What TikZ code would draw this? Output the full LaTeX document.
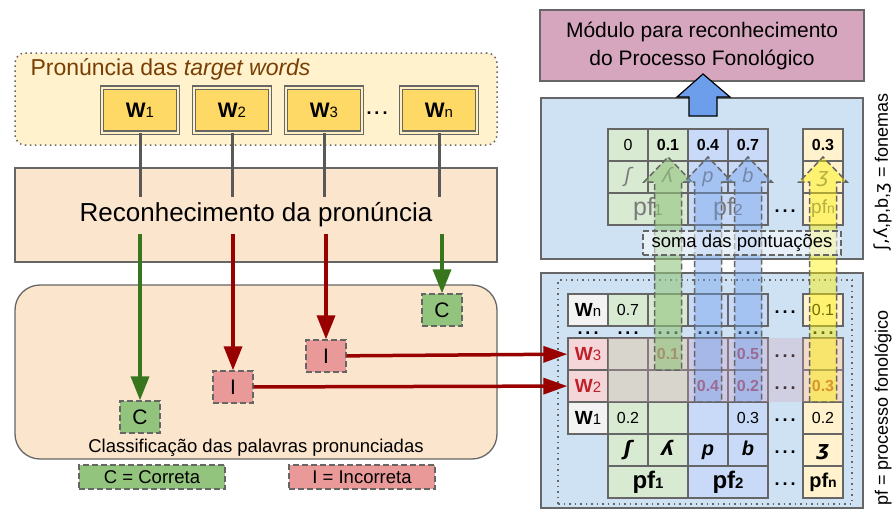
\documentclass[tikz,border=0pt]{standalone}
\usepackage{fontspec}
\setmainfont{Liberation Sans}
\newfontfamily\ipafont{DejaVu Sans}
\usetikzlibrary{arrows.meta}

\definecolor{peach}{HTML}{FCE5CD}
\definecolor{cream}{HTML}{FFF2CC}
\definecolor{gold}{HTML}{FFD966}
\definecolor{okgreen}{HTML}{93C47D}
\definecolor{okdark}{HTML}{38761D}
\definecolor{badred}{HTML}{EA9999}
\definecolor{baddark}{HTML}{990000}
\definecolor{mauve}{HTML}{D5A6BD}
\definecolor{sky}{HTML}{CFE2F3}
\definecolor{cellgreen}{HTML}{D9EAD3}
\definecolor{cellblue}{HTML}{C9DAF8}
\definecolor{cellgray}{HTML}{F3F3F3}
\definecolor{cellpink}{HTML}{F4D6D9}
\definecolor{bigblue}{HTML}{6D9EEB}
\definecolor{rim}{HTML}{666666}
\definecolor{wire}{HTML}{595959}
\definecolor{wordtitle}{HTML}{783F04}
\definecolor{faded}{HTML}{7A7A7A}
\definecolor{wrongtxt}{HTML}{C0202A}
\definecolor{hitred}{HTML}{B3202A}

\newcommand{\fsz}[1]{\fontsize{#1}{#1}\selectfont}
% letter(s) followed by a smaller index: W1, pf2 ...
\newcommand{\idx}[3]{#1{\fsz{#2}#3}}
\newcommand{\wlabel}[1]{\idx{\textbf{W}}{15}{#1}}
\newcommand{\ellip}{\textbf{.\hspace{3pt}.\hspace{3pt}.}}
% translucent block arrow from the score grid up into the sums
\newcommand{\upflow}[3]{%
  \draw[flow, #3] (#1-13.5,#2) -- (#1-13.5,182) -- (#1-24,182) -- (#1,157)
    -- (#1+24,182) -- (#1+13.5,182) -- (#1+13.5,#2) -- cycle;}

\begin{document}
\begin{tikzpicture}[x=1pt,y=-1pt,
  rimbox/.style={draw=rim, line width=1.3pt, inner sep=0pt},
  stage/.style={rimbox, fill=peach, minimum width=482},
  word/.style={draw=rim, line width=1.1pt, double=gold!40, double distance=2pt,
    fill=gold, minimum width=76, minimum height=45, inner sep=0pt, font=\fsz{21}},
  tagbox/.style={rimbox, dash pattern=on 6pt off 3pt, minimum width=40, minimum height=32, font=\fsz{21}},
  keybox/.style={rimbox, dash pattern=on 6pt off 3pt, minimum width=146, minimum height=24, font=\fsz{18.5}},
  feed/.style={draw=wire, line width=3pt},
  okflow/.style={draw=okdark, line width=3.5pt, -{Triangle[length=24pt,width=18pt]}},
  badflow/.style={draw=baddark, line width=3.5pt, -{Triangle[length=24pt,width=18pt]}},
  cell/.style={rimbox, minimum width=40, minimum height=32, font=\fsz{16}},
  wide/.style={cell, minimum width=80},
  hit/.style={cell, font=\fsz{16}\bfseries, text=hitred},
  phon/.style={cell, font=\fsz{20}\bfseries\itshape, text height=14pt, text depth=4pt},
  label/.style={cell, font=\fsz{19}},
  gapdots/.style={inner sep=0pt, font=\fsz{18}},
  flow/.style={draw=rim, line width=1.5pt, dash pattern=on 6pt off 3pt}]
\useasboundingbox (0,0) rectangle (896,512);

% words to pronounce
\node[draw=rim, line width=1.5pt, dash pattern=on 1.5pt off 3.5pt, rounded corners=10,
  fill=cream, minimum width=482, minimum height=92] (targets) at (256,99) {};
\node[anchor=base west, text=wordtitle, font=\fsz{23}] (targetsname) at (27,75) {Pronúncia das \textit{target words}};
\node[word] (w1) at (140,110) {\wlabel{1}};
\node[word] (w2) at (232,110) {\wlabel{2}};
\node[word] (w3) at (324,110) {\wlabel{3}};
\node[gapdots] (wdots) at (377,113) {\ellip};
\node[word] (wn) at (439,110) {\wlabel{n}};

% recogniser
\node[stage, minimum height=94, font=\fsz{26}] (recog) at (256,215) {Reconhecimento da pronúncia};
\coordinate (feedend) at (0,197);
\coordinate (outstart) at (0,234);
\foreach \w in {w1,w2,w3,wn}
  \draw[feed] (\w.south) -- (\w.south |- feedend);

% classification
\node[stage, rounded corners=25, minimum height=174] (classes) at (256,372) {};
\node[font=\fsz{18.5}] (classesname) at (256,448) {Classificação das palavras pronunciadas};
\node[tagbox, fill=okgreen] (cn) at (442,310) {C};
\node[tagbox, fill=badred] (i3) at (326,356) {I};
\node[tagbox, fill=badred] (i2) at (233,387) {I};
\node[tagbox, fill=okgreen] (c1) at (140,417) {C};
\draw[okflow] (c1 |- outstart) -- (c1);
\draw[badflow] (i2 |- outstart) -- (i2);
\draw[badflow] (i3 |- outstart) -- (i3);
\draw[okflow] (cn |- outstart) -- (cn);

\node[keybox, fill=okgreen] (okkey) at (152,477) {C = Correta};
\node[keybox, fill=badred] (badkey) at (362,477) {I = Incorreta};

% phonological process module
\node[rimbox, fill=mauve, minimum width=324, minimum height=71, align=center,
  font=\fontsize{21}{28}\selectfont] (module) at (702,45.5) {Módulo para reconhecimento\\do Processo Fonológico};

% summed scores
\node[rimbox, fill=sky, minimum width=322, minimum height=161] (sums) at (702,178.5) {};
\draw[line width=1.2pt, fill=bigblue] (689,116) -- (689,97) -- (677,97) -- (703,74)
  -- (730,97) -- (717,97) -- (717,116) -- cycle;

\node[cell, fill=cellgreen] (tv1) at (628,145) {0};
\node[hit, text=black, fill=cellgreen] (tv2) at (668,145) {0.1};
\node[hit, text=black, fill=cellblue] (tv3) at (708,145) {0.4};
\node[hit, text=black, fill=cellblue] (tv4) at (748,145) {0.7};
\node[hit, text=black, fill=cream] (tvn) at (823,145) {0.3};

\node[phon, font=\fsz{20}\itshape, text=faded, fill=cellgreen] (tp1) at (628,177) {\ipafont ʃ};
\node[phon, font=\fsz{20}\itshape, text=faded, fill=cellgreen] (tp2) at (668,177) {\ipafont ʎ};
\node[phon, font=\fsz{20}\itshape, text=faded, fill=cellblue] (tp3) at (708,177) {p};
\node[phon, font=\fsz{20}\itshape, text=faded, fill=cellblue] (tp4) at (748,177) {b};
\node[phon, font=\fsz{20}\itshape, text=faded, fill=cream] (tpn) at (823,177) {\ipafont ʒ};

\node[wide, text=faded, font=\fsz{25}, fill=cellgreen] (tf1) at (648,209) {\idx{pf}{16}{1}};
\node[wide, text=faded, font=\fsz{25}, fill=cellblue] (tf2) at (728,209) {\idx{pf}{16}{2}};
\node[gapdots] (tfgap) at (785,211) {\ellip};
\node[cell, text=faded, font=\fsz{19}, fill=cream] (tfn) at (823,209) {\idx{pf}{14}{n}};

% scores per word and phoneme
\node[rimbox, fill=sky, minimum width=322, minimum height=235] (scores) at (702,390.5) {};
\node[draw=rim, line width=1.5pt, dash pattern=on 1.5pt off 4pt, minimum width=294,
  minimum height=224] (grid) at (705,392) {};

\node[label, fill=cellgray] (lwn) at (588,310) {\wlabel{n}};
\node[cell, fill=cellgreen] (rn1) at (628,310) {0.7};
\node[cell, fill=cellgreen] (rn2) at (668,310) {};
\node[cell, fill=cellblue] (rn3) at (708,310) {};
\node[cell, fill=cellblue] (rn4) at (748,310) {};
\node[cell, fill=cream] (rnn) at (823,310) {0.1};

\node[label, fill=cellpink, text=wrongtxt] (lw3) at (588,354) {\wlabel{3}};
\node[cell, fill=cellgreen] (r31) at (628,354) {};
\node[hit, fill=cellgreen] (r32) at (668,354) {0.1};
\node[cell, fill=cellblue] (r33) at (708,354) {};
\node[hit, fill=cellblue] (r34) at (748,354) {0.5};
\node[cell, fill=cream] (r3n) at (823,354) {};

\node[label, fill=cellpink, text=wrongtxt] (lw2) at (588,386) {\wlabel{2}};
\node[cell, fill=cellgreen] (r21) at (628,386) {};
\node[cell, fill=cellgreen] (r22) at (668,386) {};
\node[hit, fill=cellblue] (r23) at (708,386) {0.4};
\node[hit, fill=cellblue] (r24) at (748,386) {0.2};
\node[hit, fill=cream] (r2n) at (823,386) {0.3};

\node[label, fill=cellgray] (lw1) at (588,418) {\wlabel{1}};
\node[cell, fill=cellgreen] (r11) at (628,418) {0.2};
\node[cell, fill=cellgreen] (r12) at (668,418) {};
\node[cell, fill=cellblue] (r13) at (708,418) {};
\node[cell, fill=cellblue] (r14) at (748,418) {0.3};
\node[cell, fill=cream] (r1n) at (823,418) {0.2};

\node[phon, fill=cellgreen] (ph1) at (628,450) {\ipafont ʃ};
\node[phon, fill=cellgreen] (ph2) at (668,450) {\ipafont ʎ};
\node[phon, fill=cellblue] (ph3) at (708,450) {p};
\node[phon, fill=cellblue] (ph4) at (748,450) {b};
\node[phon, fill=cream] (phn) at (823,450) {\ipafont ʒ};

\node[wide, font=\fsz{24}\bfseries, fill=cellgreen] (pf1) at (648,482) {\idx{pf}{15}{1}};
\node[wide, font=\fsz{24}\bfseries, fill=cellblue] (pf2) at (728,482) {\idx{pf}{15}{2}};
\node[cell, font=\fsz{20}\bfseries, fill=cream] (pfn) at (823,482) {\idx{pf}{14}{n}};

\foreach \x/\n in {588/l,628/1,668/2,708/3,748/4,823/n}
  \node[gapdots] (skip\n) at (\x,333) {\ellip};
\foreach \y/\n in {310/n,354/3,386/2,418/1,450/ph,482/pf}
  \node[gapdots] (more\n) at (785,\y+2) {\ellip};

% wrongly pronounced rows
\fill[mauve, fill opacity=.3] (608,338) rectangle (843,402);

\upflow{668}{370}{fill=okgreen, fill opacity=.6}
\upflow{708}{402}{fill=bigblue, fill opacity=.4}
\upflow{748}{402}{fill=bigblue, fill opacity=.4}
\upflow{823}{402}{fill=yellow, fill opacity=.45}

\node[rimbox, dash pattern=on 6pt off 3pt, fill=white, fill opacity=.5, text opacity=1,
  minimum width=198, minimum height=24, font=\fsz{18.5}] (soma) at (742,243) {soma das pontuações};

\draw[badflow, -{Triangle[length=24pt,width=16pt]}] (i3) -- (lw3);
\draw[badflow, -{Triangle[length=24pt,width=16pt]}] (i2) -- (lw2);

\node[rotate=90, font=\fsz{18}] (phonkey) at (883,172) {{\ipafont ʃ,ʎ},p,b,{\ipafont ʒ} = fonemas};
\node[rotate=90, font=\fsz{18}] (pfkey) at (883,408) {pf = processo fonológico};
\end{tikzpicture}
\end{document}
